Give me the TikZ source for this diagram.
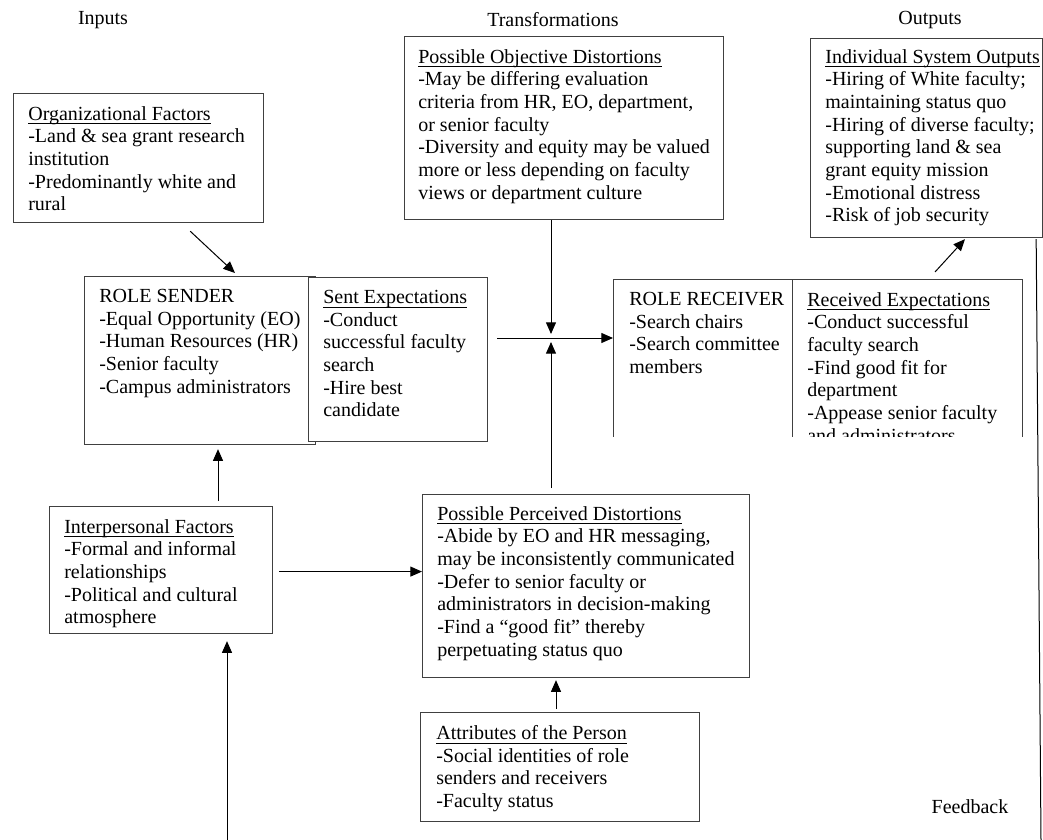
\documentclass[tikz,border=0pt]{standalone}
\usepackage{fontspec}
\setmainfont{Liberation Serif}
\usetikzlibrary{arrows.meta,calc}

% underline set close to the baseline
\newcommand\ulhead[1]{\setbox0\hbox{#1}\rlap{\rule[-2.4pt]{\wd0}{0.55pt}}\box0}

\tikzset{
  box/.style={draw=black!75, line width=0.7pt, inner sep=0pt, anchor=north west, fill=white},
  txt/.style={anchor=north west, inner sep=0pt, align=left, font=\fontsize{12}{13.6}\selectfont},
  head/.style={inner sep=0pt, font=\fontsize{12}{13.6}\selectfont},
  arr/.style={-{Triangle[length=7pt,width=6pt]}, line width=0.6pt}
}

\begin{document}
\begin{tikzpicture}[x=0.6pt,y=-0.6pt]
\useasboundingbox (0,0) rectangle (1043,840);

% column heads
\node[head] (inhead) at (103,20) {Inputs};
\node[head] (trhead) at (553,20) {Transformations};
\node[head] (outhead) at (930,20) {Outputs};

% inputs
\node[box, minimum width=150pt, minimum height=77.4pt] (org) at (13,93) {};
\node[txt] (orgtxt) at (28,106) {\ulhead{Organizational Factors}\\
  -Land \& sea grant research\\ institution\\ -Predominantly white and\\ rural};

\node[box, minimum width=138.6pt, minimum height=100.8pt] (sender) at (84,276) {};
\node[txt] (sendertxt) at (99,289) {ROLE SENDER\\ -Equal Opportunity (EO)\\
  -Human Resources (HR)\\ -Senior faculty\\ -Campus administrators};
\node[box, minimum width=107.4pt, minimum height=98.4pt] (sent) at (308,277) {};
\node[txt] (senttxt) at (323,290) {\ulhead{Sent Expectations}\\ -Conduct\\
  successful faculty\\ search\\ -Hire best\\ candidate};

\node[box, minimum width=133.8pt, minimum height=76.2pt] (interp) at (49,506) {};
\node[txt] (interptxt) at (64,519) {\ulhead{Interpersonal Factors}\\
  -Formal and informal\\ relationships\\ -Political and cultural\\ atmosphere};

% transformations
\node[box, minimum width=191.4pt, minimum height=109.8pt] (obj) at (404,36) {};
\node[txt] (objtxt) at (418,49) {\ulhead{Possible Objective Distortions}\\
  -May be differing evaluation\\ criteria from HR, EO, department,\\ or senior faculty\\
  -Diversity and equity may be valued\\ more or less depending on faculty\\
  views or department culture};

\node[box, minimum width=196.2pt, minimum height=109.8pt] (perc) at (422,494) {};
\node[txt] (perctxt) at (437,506) {\ulhead{Possible Perceived Distortions}\\
  -Abide by EO and HR messaging,\\ may be inconsistently communicated\\
  -Defer to senior faculty or\\ administrators in decision-making\\
  -Find a “good fit” thereby\\ perpetuating status quo};

\node[box, minimum width=167.4pt, minimum height=65.4pt] (attr) at (420,712) {};
\node[txt] (attrtxt) at (436,725) {\ulhead{Attributes of the Person}\\
  -Social identities of role\\ senders and receivers\\ -Faculty status};

% receiver, cut off at the bottom
\begin{scope}
\clip (0,0) rectangle (1043,436);
\node[box, minimum width=107.4pt, minimum height=114pt] (recv) at (613,279) {};
\node[txt] (recvtxt) at (629,292) {ROLE RECEIVER\\ -Search chairs\\
  -Search committee\\ members};
\node[box, minimum width=138pt, minimum height=114pt] (rcvd) at (792,279) {};
\node[txt] (rcvdtxt) at (807,292) {\ulhead{Received Expectations}\\
  -Conduct successful\\ faculty search\\ -Find good fit for\\ department\\
  -Appease senior faculty\\ and administrators};
\end{scope}

% outputs
\node[box, minimum width=139.2pt, minimum height=119.4pt] (out) at (810,38) {};
\node[txt] (outtxt) at (825,49) {\ulhead{Individual System Outputs}\\
  -Hiring of White faculty;\\ maintaining status quo\\ -Hiring of diverse faculty;\\
  supporting land \& sea\\ grant equity mission\\ -Emotional distress\\
  -Risk of job security};

% connectors
\coordinate (hub) at (551,338);
\draw[arr] ($(org.south east)+(-74,8)$) -- ($(sender.north west)+(151,-3)$);
\draw[arr] ($(interp.north west)+(169,-5)$) -- ($(sender.south west)+(134,4)$);
\coordinate (feedin) at (227,840);
\draw[arr] (feedin) -- ($(interp.south west)+(178,7)$);
\coordinate (ip) at ($(interp.east)+(6,1.5)$);
\draw[arr] (ip) -- (ip -| perc.west);
\draw[arr] (obj.south -| hub) -- ($(hub)+(0,-4)$);
\draw[arr] ($(perc.north -| hub)+(0,-6)$) -- ($(hub)+(0,4)$);
\draw[arr] ($(hub)+(-54,0)$) -- (hub -| recv.west);
\draw[arr] ($(attr.north west)+(136,-3)$) -- ($(perc.south west)+(134,2)$);
\draw[arr] ($(rcvd.north west)+(143,-7)$) -- ($(out.south west)+(155,1)$);

% feedback
\coordinate (fbend) at (1041,840);
\draw[line width=0.6pt] ($(out.south east)+(-7,1)$) -- (fbend);
\node[head] (fbtext) at (970,807) {Feedback};
\end{tikzpicture}
\end{document}
